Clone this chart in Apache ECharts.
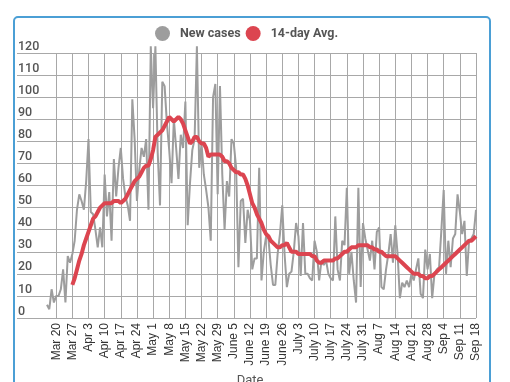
<!DOCTYPE html>
<html>
<head>
<meta charset="utf-8">
<script src="https://cdn.jsdelivr.net/npm/echarts@6/dist/echarts.min.js"></script>
<style>
html,body{margin:0;padding:0;background:#fff;}
#wrap{position:relative;width:510px;height:382px;overflow:hidden;}
#c{width:510px;height:382px;}
#xname{position:absolute;left:200px;width:100px;top:372px;text-align:center;font:13px Roboto, sans-serif;color:#555;line-height:16px;}
</style>
</head>
<body>
<div id="wrap">
<div id="c"></div>
<div id="xname"></div>
</div>
<script>
// Daily category axis: Mar 3 .. Sep 18 (2020)
const monthNames = ['Jan','Feb','Mar','Apr','May','June','July','Aug','Sep','Oct','Nov','Dec'];
const axisStart = [2020, 2, 3];
const axisDays = 200;
const xAxisTitle = 'Date';

// Weekly tick labels (Fridays)
const tickLabels = ['Mar 20','Mar 27','Apr 3','Apr 10','Apr 17','Apr 24','May 1','May 8','May 15','May 22','May 29','June 5','June 12','June 19','June 26','July 3','July 10','July 17','July 24','July 31','Aug 7','Aug 14','Aug 21','Aug 28','Sep 4','Sep 11','Sep 18'];

// New cases, daily from Mar 16
const newCasesStart = 'Mar 16';
const newCases = [
  6, 4, 13, 7,
  10, 10, 13, 22, 7, 28, 25,
  29, 35, 49, 56, 53, 49, 62,
  81, 48, 47, 40, 32, 41, 32,
  65, 46, 57, 35, 72, 55, 68,
  77, 63, 55, 51, 44, 99, 81,
  53, 67, 77, 73, 81, 49, 123,
  95, 123, 75, 51, 107, 105, 88,
  76, 61, 90, 77, 63, 83, 77,
  98, 42, 61, 76, 81, 123, 68,
  79, 65, 58, 50, 35, 100, 106,
  56, 105, 65, 40, 62, 55, 81,
  79, 68, 23, 53, 54, 34, 49,
  44, 22, 27, 27, 68, 17, 30,
  37, 36, 24, 15, 15, 29, 38,
  51, 29, 14, 20, 21, 30, 43,
  37, 19, 43, 20, 20, 18, 17,
  35, 30, 17, 26, 24, 26, 20,
  18, 17, 46, 22, 17, 35, 33,
  59, 20, 30, 17, 7, 59, 14,
  43, 36, 31, 26, 35, 22, 39,
  41, 14, 13, 22, 29, 38, 25,
  42, 29, 9, 16, 14, 17, 14,
  20, 17, 22, 27, 11, 9, 31,
  22, 29, 9, 20, 22, 23, 40,
  58, 20, 35, 23, 36, 38, 56,
  48, 38, 44, 19, 35, 36, 38,
  49
];

// 14-day average, daily from Mar 27
const avgStart = 'Mar 27';
const avg14 = [
  15, 18, 22, 26, 29, 33, 36,
  39, 42, 45, 46, 48, 50, 51,
  52, 52, 52, 52, 53, 53, 53,
  52, 53, 54, 56, 58, 60, 62,
  63, 64, 66, 68, 69, 69, 72,
  76, 82, 83, 84, 85, 87, 89,
  91, 90, 89, 90, 91, 90, 88,
  85, 82, 79, 80, 82, 82, 80,
  79, 79, 77, 73, 74, 74, 74,
  74, 74, 73, 71, 71, 70, 68,
  67, 66, 66, 65, 65, 63, 60,
  56, 52, 50, 47, 45, 43, 40,
  38, 37, 35, 34, 33, 32, 32,
  33, 33, 34, 32, 30, 30, 30,
  29, 29, 29, 29, 29, 29, 28,
  28, 26, 25, 25, 26, 26, 26,
  26, 26, 27, 27, 28, 29, 30,
  30, 31, 32, 32, 32, 33, 33,
  33, 33, 33, 32, 32, 31, 31,
  30, 30, 29, 28, 28, 28, 28,
  28, 27, 26, 25, 24, 23, 22,
  21, 20, 20, 20, 19, 19, 18,
  18, 19, 19, 20, 21, 22, 23,
  24, 25, 26, 27, 28, 29, 30,
  31, 32, 33, 34, 35, 35, 36,
  37
];

const categories = [];
for (let i = 0; i < axisDays; i++) {
  const d = new Date(Date.UTC(axisStart[0], axisStart[1], axisStart[2]) + i * 86400000);
  categories.push(monthNames[d.getUTCMonth()] + ' ' + d.getUTCDate());
}
const tickSet = new Set(tickLabels);
const showTick = (idx) => tickSet.has(categories[idx]);
const nStart = categories.indexOf(newCasesStart);
const aStart = categories.indexOf(avgStart);
const newData = newCases.map((v, i) => [categories[nStart + i], v]);
const avgData = avg14.map((v, i) => [categories[aStart + i], v]);

document.getElementById('xname').textContent = xAxisTitle;

const chart = echarts.init(document.getElementById('c'), null, {renderer: 'canvas'});
chart.setOption({
  backgroundColor: '#ffffff',
  animation: false,
  textStyle: {fontFamily: 'Roboto, "Noto Sans", sans-serif'},
  graphic: [{
    type: 'rect',
    shape: {x: 14, y: 17, width: 476, height: 420, r: 4},
    style: {fill: 'none', stroke: '#4b9fd5', lineWidth: 2},
    silent: true, z: 0
  }],
  legend: {
    top: 21,
    left: 150,
    icon: 'circle',
    itemWidth: 25,
    itemHeight: 15,
    itemGap: 5,
    textStyle: {fontSize: 12.5, fontWeight: 'bold', color: '#555'},
    data: ['New cases', '14-day Avg.']
  },
  grid: {left: 17, right: 34, top: 53, bottom: 64, containLabel: false, outerBoundsMode: 'none'},
  xAxis: {
    type: 'category',
    data: categories,
    boundaryGap: false,
    axisLine: {show: false},
    axisTick: {show: false},
    axisLabel: {
      interval: 0,
      formatter: (val) => (tickSet.has(val) ? val : ''),
      hideOverlap: false,
      rotate: 90,
      fontSize: 12,
      fontFamily: '"Liberation Sans", Arial, sans-serif',
      color: '#333',
      margin: 5
    },
    splitLine: {
      show: true,
      interval: (idx) => showTick(idx),
      lineStyle: {color: '#a8a8a8', width: 1}
    }
  },
  yAxis: {
    type: 'value',
    min: 0,
    max: 120,
    interval: 10,
    axisLine: {show: false},
    axisTick: {show: false},
    axisLabel: {
      inside: true,
      margin: 1,
      verticalAlign: 'bottom',
      align: 'left',
      fontSize: 12.5,
      fontWeight: 500,
      color: '#555'
    },
    splitLine: {show: true, lineStyle: {color: '#a8a8a8', width: 1}}
  },
  series: [
    {
      name: 'New cases',
      type: 'line',
      data: newData,
      showSymbol: false,
      symbol: 'circle',
      clip: false,
      itemStyle: {color: '#9d9d9d'},
      lineStyle: {color: '#9d9d9d', width: 2},
      z: 2
    },
    {
      name: '14-day Avg.',
      type: 'line',
      data: avgData,
      showSymbol: false,
      symbol: 'circle',
      itemStyle: {color: '#dc4550'},
      lineStyle: {color: '#dc4550', width: 4},
      z: 3
    }
  ]
});
</script>
</body>
</html>
